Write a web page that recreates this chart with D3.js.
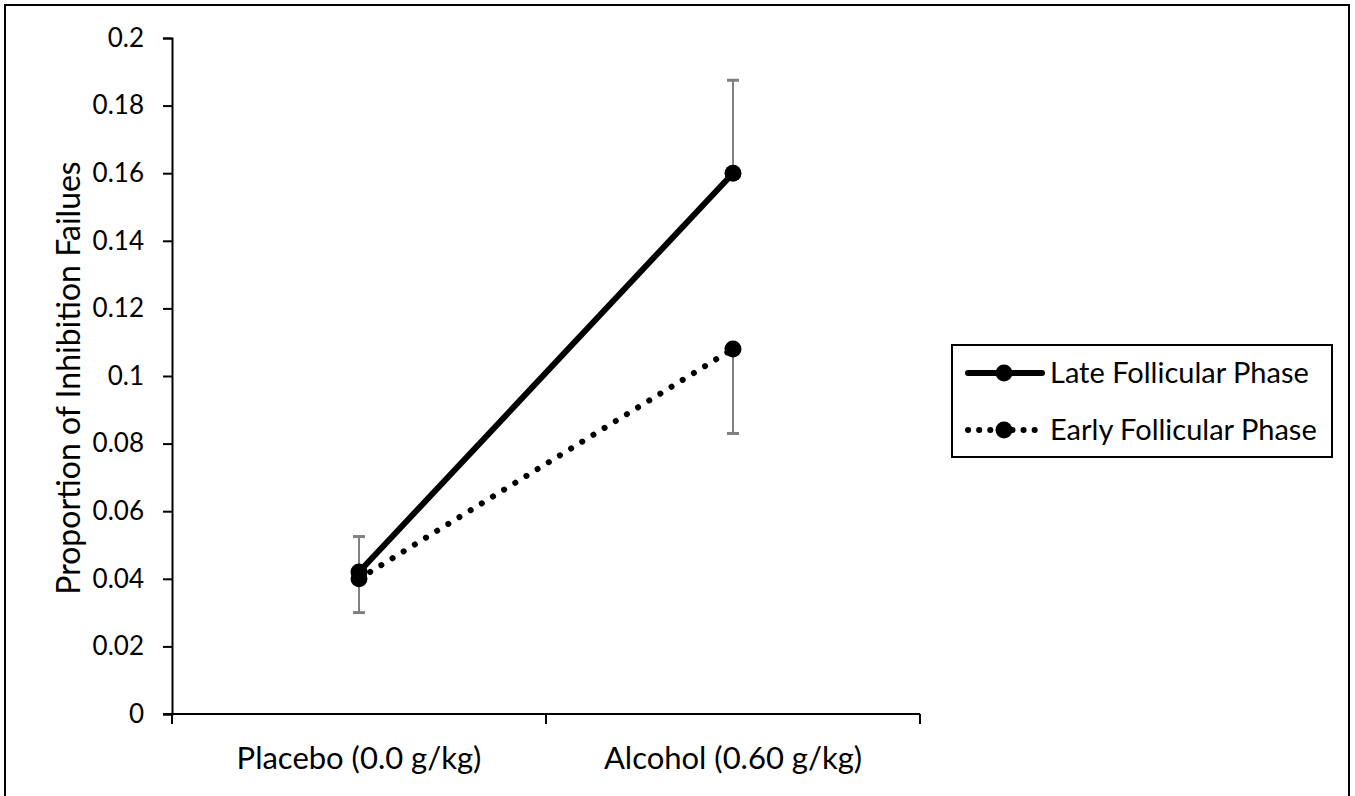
<!DOCTYPE html>
<html>
<head>
<meta charset="utf-8">
<script src="https://cdn.jsdelivr.net/npm/d3@7"></script>
<style>
  body { margin: 0; background: #fff; }
  text { font-family: Lato, "Open Sans", sans-serif; fill: #000; }
</style>
</head>
<body>
<div id="chart"></div>
<script>
// Chart data
var categories = ["Placebo (0.0 g/kg)", "Alcohol (0.60 g/kg)"];
var seriesNames = ["Late Follicular Phase", "Early Follicular Phase"];
var lateValues = [0.042, 0.160];
var earlyValues = [0.040, 0.108];
// Late series shows the plus error, early series the minus error
var lateErrUp = [0.0105, 0.0275];
var earlyErrDown = [0.010, 0.025];
var yTicks = [0, 0.02, 0.04, 0.06, 0.08, 0.1, 0.12, 0.14, 0.16, 0.18, 0.2];

var width = 1355;
var height = 796;

var svg = d3.select("#chart")
  .append("svg")
  .attr("width", width)
  .attr("height", height);

// outer frame
svg.append("rect")
  .attr("x", 5).attr("y", 5)
  .attr("width", 1344).attr("height", 800)
  .attr("fill", "none")
  .attr("stroke", "#000")
  .attr("stroke-width", 2);

var plotLeft = 172, plotRight = 920, plotTop = 38, plotBottom = 714;

var xScale = d3.scaleBand()
  .domain(categories)
  .range([plotLeft, plotRight]);

var yScale = d3.scaleLinear()
  .domain([0, 0.2])
  .range([plotBottom, plotTop]);

// y axis
var yAxis = d3.axisLeft(yScale)
  .tickValues(yTicks)
  .tickSize(9)
  .tickPadding(19)
  .tickFormat(function(d) { return d3.format("~g")(d); });

var yG = svg.append("g")
  .attr("class", "yAxis")
  .attr("transform", "translate(" + plotLeft + ",0)")
  .attr("font-size", 26)
  .attr("font-family", "Lato, sans-serif")
  .call(yAxis);
yG.select(".domain").attr("stroke", "#000").attr("stroke-width", 2);
yG.selectAll(".tick line").attr("stroke", "#000").attr("stroke-width", 2);
yG.selectAll(".tick text").attr("font-size", 26);

// x axis, ticks sit between the categories
svg.append("line")
  .attr("x1", plotLeft - 9).attr("x2", plotRight)
  .attr("y1", plotBottom).attr("y2", plotBottom)
  .attr("stroke", "#000").attr("stroke-width", 2);

var xTickPos = [plotLeft].concat(categories.map(function(c) { return xScale(c) + xScale.bandwidth(); }));
svg.selectAll(".xTick")
  .data(xTickPos)
  .enter()
  .append("line")
  .attr("class", "xTick")
  .attr("x1", function(d) { return d; })
  .attr("x2", function(d) { return d; })
  .attr("y1", plotBottom)
  .attr("y2", plotBottom + 10)
  .attr("stroke", "#000").attr("stroke-width", 2);

svg.selectAll(".xLabel")
  .data(categories)
  .enter()
  .append("text")
  .attr("class", "xLabel")
  .attr("x", function(d) { return xScale(d) + xScale.bandwidth() / 2; })
  .attr("y", 769)
  .attr("text-anchor", "middle")
  .attr("font-size", 31)
  .text(function(d) { return d; });

// y axis title
svg.append("text")
  .attr("transform", "translate(80,378)rotate(-90)")
  .attr("text-anchor", "middle")
  .attr("font-size", 32)
  .text("Proportion of Inhibition Failues");

function cx(i) { return xScale(categories[i]) + xScale.bandwidth() / 2; }

// error bars
var errColor = "#808080";
function errorBar(i, from, to) {
  svg.append("line")
    .attr("x1", cx(i)).attr("x2", cx(i))
    .attr("y1", yScale(from)).attr("y2", yScale(to))
    .attr("stroke", errColor).attr("stroke-width", 2);
  svg.append("line")
    .attr("x1", cx(i) - 6).attr("x2", cx(i) + 6)
    .attr("y1", yScale(to)).attr("y2", yScale(to))
    .attr("stroke", errColor).attr("stroke-width", 3);
}
lateValues.forEach(function(v, i) { errorBar(i, v, v + lateErrUp[i]); });
earlyValues.forEach(function(v, i) { errorBar(i, v, v - earlyErrDown[i]); });

var line = d3.line()
  .x(function(d, i) { return cx(i); })
  .y(function(d) { return yScale(d); });

// early series (dotted)
svg.append("path")
  .datum(earlyValues)
  .attr("d", line)
  .attr("fill", "none")
  .attr("stroke", "#000")
  .attr("stroke-width", 6)
  .attr("stroke-linecap", "round")
  .attr("stroke-dasharray", "0.1 13");

// late series (solid)
svg.append("path")
  .datum(lateValues)
  .attr("d", line)
  .attr("fill", "none")
  .attr("stroke", "#000")
  .attr("stroke-width", 6);

[earlyValues, lateValues].forEach(function(vals) {
  svg.selectAll(null)
    .data(vals)
    .enter()
    .append("circle")
    .attr("cx", function(d, i) { return cx(i); })
    .attr("cy", function(d) { return yScale(d); })
    .attr("r", 8.5)
    .attr("fill", "#000");
});

// legend
var legend = svg.append("g").attr("transform", "translate(952,345)");
legend.append("rect")
  .attr("width", 380).attr("height", 112)
  .attr("fill", "#fff")
  .attr("stroke", "#000").attr("stroke-width", 2);

var legendRows = [
  { name: seriesNames[0], y: 28, dash: null },
  { name: seriesNames[1], y: 85, dash: "0.1 11" }
];
legendRows.forEach(function(r) {
  var ln = legend.append("line")
    .attr("x1", 16).attr("x2", 90)
    .attr("y1", r.y).attr("y2", r.y)
    .attr("stroke", "#000").attr("stroke-width", 6)
    .attr("stroke-linecap", "round");
  if (r.dash) ln.attr("stroke-dasharray", r.dash);
  legend.append("circle")
    .attr("cx", 52).attr("cy", r.y).attr("r", 8.5).attr("fill", "#000");
  legend.append("text")
    .attr("x", 98).attr("y", r.y + 10)
    .attr("font-size", 29)
    .text(r.name);
});
</script>
</body>
</html>
